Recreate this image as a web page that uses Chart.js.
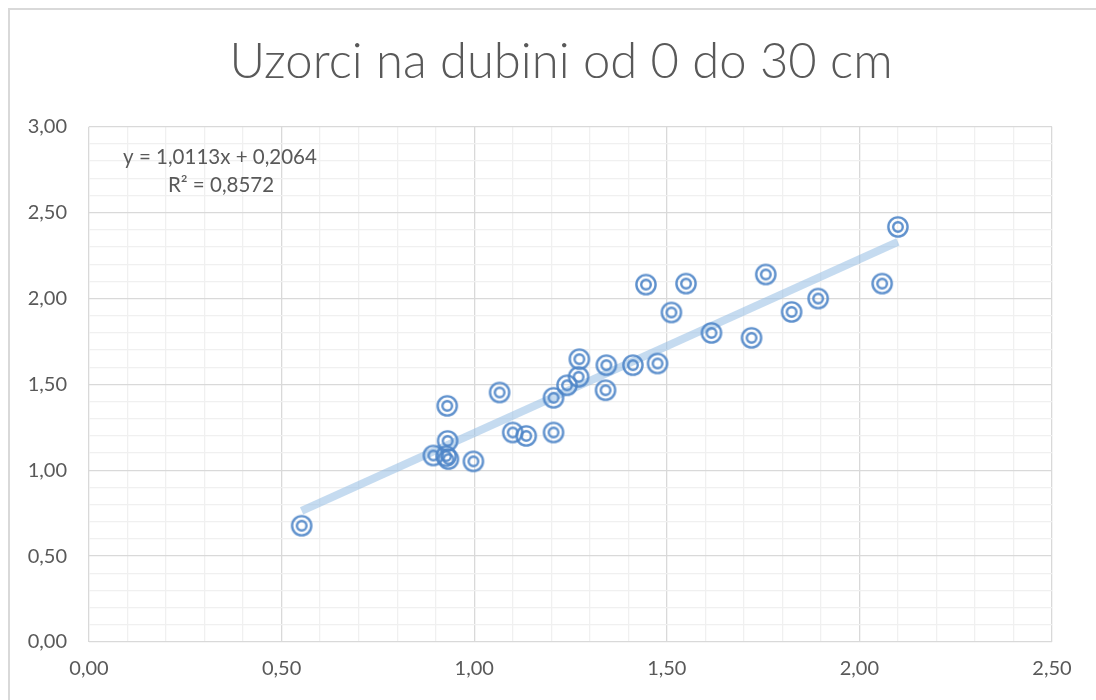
<!DOCTYPE html>
<html>
<head>
<meta charset="utf-8">
<script src="https://cdn.jsdelivr.net/npm/chart.js@4.4.1/dist/chart.umd.min.js"></script>
<style>
  html, body { margin: 0; padding: 0; background: #fff; }
  #wrap { position: relative; width: 1096px; height: 700px; }
  #frame { position: absolute; left: 8px; top: 8px; width: 1100px; height: 720px;
           border: 2px solid #d9d9d9; box-sizing: border-box; pointer-events: none; }
</style>
</head>
<body>
<div id="wrap">
  <canvas id="chart" width="1096" height="700"></canvas>
  <div id="frame"></div>
</div>
<script>
const sampleX = [0.552, 0.894, 0.930, 0.931, 0.927, 0.933, 0.998, 1.066, 1.100, 1.135,
                 1.206, 1.206, 1.241, 1.271, 1.273, 1.343, 1.341, 1.412, 1.476, 1.446,
                 1.550, 1.512, 1.616, 1.720, 1.757, 1.824, 1.893, 2.059, 2.100];
const sampleY = [0.677, 1.086, 1.375, 1.171, 1.082, 1.065, 1.052, 1.453, 1.220, 1.200,
                 1.220, 1.422, 1.495, 1.544, 1.647, 1.612, 1.466, 1.612, 1.622, 2.081,
                 2.087, 1.919, 1.800, 1.771, 2.140, 1.922, 2.000, 2.087, 2.417];

// trendline end points
const trendX = [0.552, 2.100];
const trendY = [0.764, 2.330];

const chartTitle = 'Uzorci na dubini od 0 do 30 cm';
const eqLines = ['y = 1,0113x + 0,2064', 'R² = 0,8572'];

const textColor = '#595959';
const markColor = 'rgba(78,133,200,0.9)';

function ringMarker() {
    const c = document.createElement('canvas');
    c.width = 26;
    c.height = 26;
    const g = c.getContext('2d');
    g.strokeStyle = markColor;
    g.lineWidth = 2.4;
    g.beginPath();
    g.arc(13, 13, 9.6, 0, Math.PI * 2);
    g.stroke();
    g.beginPath();
    g.arc(13, 13, 4.8, 0, Math.PI * 2);
    g.stroke();
    return c;
}

function isMajor(v) {
    return Math.round(v * 10) % 5 === 0;
}

function fmt(v) {
    return v.toFixed(2).replace('.', ',');
}

// title is centred a bit right of the canvas middle in the original
const shiftTitle = {
    id: 'shiftTitle',
    afterLayout(chart) {
        if (chart.titleBlock) {
            chart.titleBlock.left = 70;
            chart.titleBlock.right = 1052;
        }
    }
};

const equationLabel = {
    id: 'equationLabel',
    afterDatasetsDraw(chart) {
        const ctx = chart.ctx;
        ctx.save();
        ctx.font = '20.5px Lato';
        ctx.fillStyle = textColor;
        ctx.textAlign = 'center';
        ctx.textBaseline = 'middle';
        ctx.fillText(eqLines[0], 220, 157);
        ctx.fillText(eqLines[1], 221, 185);
        ctx.restore();
    }
};

const points = sampleX.map((x, i) => ({ x: x, y: sampleY[i] }));
const trend = trendX.map((x, i) => ({ x: x, y: trendY[i] }));

new Chart(document.getElementById('chart'), {
    type: 'scatter',
    data: {
        datasets: [{
            label: 'uzorci',
            data: points,
            pointStyle: ringMarker(),
            pointRadius: 10,
            order: 1
        }, {
            label: 'trend',
            data: trend,
            showLine: true,
            borderColor: 'rgba(150,190,228,0.55)',
            borderWidth: 8,
            pointRadius: 0,
            order: 2
        }]
    },
    plugins: [shiftTitle, equationLabel],
    options: {
        responsive: false,
        animation: false,
        layout: { padding: { left: 8, right: 44, top: 0, bottom: 0 } },
        plugins: {
            legend: { display: false },
            tooltip: { enabled: false },
            title: {
                display: true,
                text: chartTitle,
                color: textColor,
                font: { family: 'Lato', size: 49, weight: 300, lineHeight: 1.2 },
                padding: { top: 33, bottom: 35 }
            }
        },
        scales: {
            x: {
                type: 'linear',
                min: 0,
                max: 2.5,
                afterFit: (s) => { s.height = 58; },
                border: { display: false },
                grid: {
                    drawTicks: false,
                    color: (c) => isMajor(c.tick.value) ? '#d9d9d9' : '#f0f0f0',
                    lineWidth: 1.3
                },
                ticks: {
                    stepSize: 0.1,
                    autoSkip: false,
                    maxRotation: 0,
                    padding: 15,
                    color: textColor,
                    font: { family: 'Lato', size: 20 },
                    callback: (v) => isMajor(v) ? fmt(v) : ''
                }
            },
            y: {
                type: 'linear',
                min: 0,
                max: 3,
                afterFit: (s) => { s.width = 81; },
                border: { display: false },
                grid: {
                    drawTicks: false,
                    color: (c) => isMajor(c.tick.value) ? '#d9d9d9' : '#f0f0f0',
                    lineWidth: 1.3
                },
                ticks: {
                    stepSize: 0.1,
                    autoSkip: false,
                    padding: 22,
                    color: textColor,
                    font: { family: 'Lato', size: 20 },
                    callback: (v) => isMajor(v) ? fmt(v) : ''
                }
            }
        }
    }
});
</script>
</body>
</html>
